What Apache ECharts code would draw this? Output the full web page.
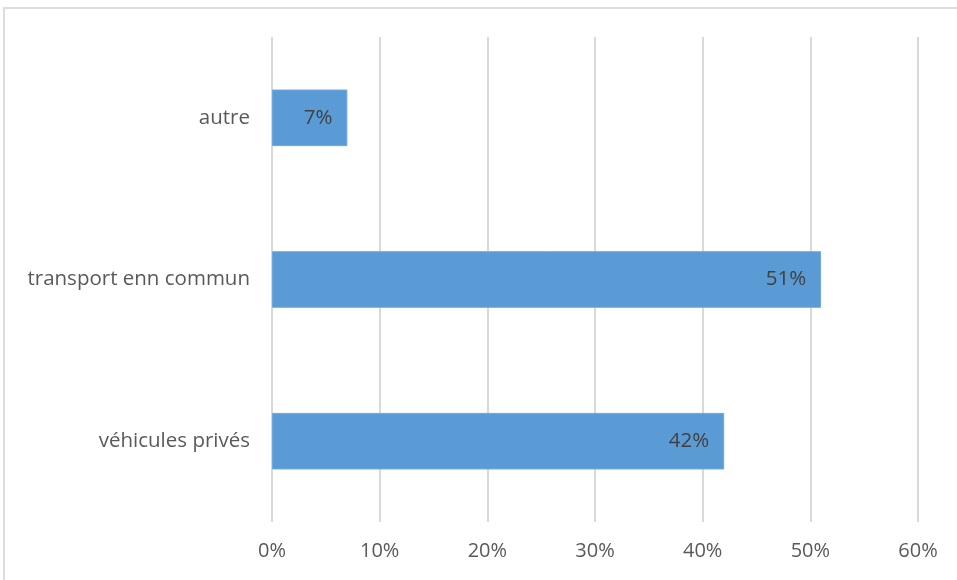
<!DOCTYPE html>
<html>
<head>
<meta charset="utf-8">
<script src="https://cdn.jsdelivr.net/npm/echarts@6/dist/echarts.min.js"></script>
<style>
  html, body { margin: 0; padding: 0; background: #ffffff; }
  #wrap { position: relative; width: 957px; height: 580px; overflow: hidden; }
  #frame { position: absolute; left: 3px; top: 7px; width: 1000px; height: 620px;
           border: 2px solid #dcdcdc; box-sizing: border-box; }
  #chart { position: absolute; left: 0; top: 0; width: 957px; height: 580px; }
</style>
</head>
<body>
<div id="wrap">
  <div id="frame"></div>
  <div id="chart"></div>
</div>
<script>
// Mode de transport (part en %)
const categories = ['véhicules privés', 'transport enn commun', 'autre'];
const shares = [42, 51, 7];
const axisMax = 60;
const axisStep = 10;

const chart = echarts.init(document.getElementById('chart'));
chart.setOption({
  backgroundColor: 'transparent',
  animation: false,
  grid: { left: 272, right: 39, top: 37, bottom: 58, containLabel: false },
  xAxis: {
    type: 'value',
    min: 0,
    max: axisMax,
    interval: axisStep,
    axisLine: { show: false },
    axisTick: { show: false },
    axisLabel: {
      formatter: '{value}%',
      color: '#595959',
      fontFamily: 'Open Sans',
      fontSize: 20,
      margin: 19
    },
    splitLine: { show: true, lineStyle: { color: '#d9d9d9', width: 2 } }
  },
  yAxis: {
    type: 'category',
    data: categories,
    axisLine: { show: false },
    axisTick: { show: false },
    axisLabel: {
      color: '#595959',
      fontFamily: 'Open Sans',
      fontSize: 20.5,
      margin: 22
    }
  },
  series: [{
    type: 'bar',
    data: shares,
    barCategoryGap: '65%',
    itemStyle: { color: '#5b9bd5', borderColor: '#6fa8dc', borderWidth: 1 },
    label: {
      show: true,
      position: 'insideRight',
      distance: 15,
      formatter: '{c}%',
      color: '#404040',
      fontFamily: 'Open Sans',
      fontSize: 20.5
    }
  }]
});
</script>
</body>
</html>
